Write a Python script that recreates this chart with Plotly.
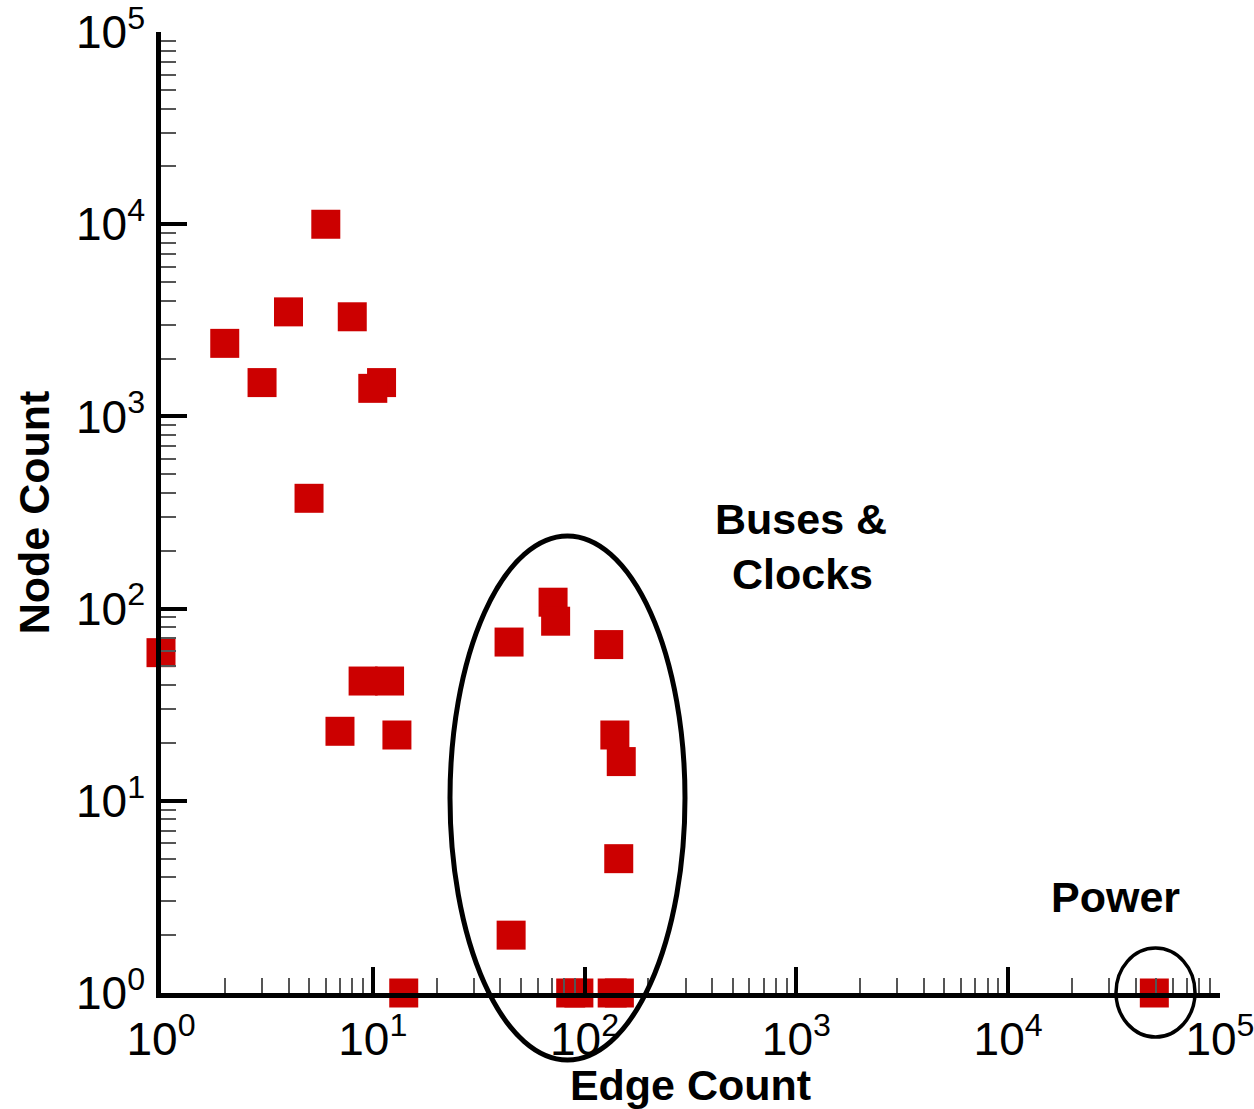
import plotly.graph_objects as go

# Data (edge count vs node count)
edge_count = [6, 2, 3, 4, 8, 11, 10, 5, 1, 9, 12, 7, 13, 14,
              44, 71, 73, 130, 139, 149, 145, 45, 86, 94, 135, 146,
              49000]
node_count = [10000, 2400, 1500, 3500, 3300, 1500, 1400, 375, 59, 42, 42, 23, 22, 1,
              67, 108, 86, 65, 22, 16, 5, 2, 1, 1, 1, 1,
              1]

major_vals = [1, 10, 100, 1000, 10000, 100000]
major_text = ["10<sup>0</sup>", "10<sup>1</sup>", "10<sup>2</sup>",
              "10<sup>3</sup>", "10<sup>4</sup>", "10<sup>5</sup>"]
minor_vals = [k * 10 ** n for n in range(5) for k in range(2, 10)]

FONT = "Liberation Sans"
RED = "#cc0000"

fig = go.Figure()
fig.add_trace(go.Scatter(
    x=edge_count, y=node_count, mode="markers",
    marker=dict(symbol="square", size=29, color=RED, line=dict(width=0)),
    cliponaxis=False, showlegend=False,
))

axis_common = dict(
    type="log", range=[0, 5.0003],
    showgrid=False, zeroline=False,
    showline=True, linecolor="black", linewidth=4.5,
    ticks="inside", ticklen=26, tickwidth=3.5, tickcolor="black",
    tickvals=major_vals, ticktext=major_text,
    ticklabeloverflow="allow",
    tickfont=dict(family=FONT, size=46, color="black"),
    minor=dict(ticks="inside", ticklen=15, tickwidth=2, tickcolor="#555555",
               tickvals=minor_vals, showgrid=False),
)

fig.update_xaxes(**axis_common, ticklabelstandoff=2,
                 title=dict(text="<b>Edge Count</b>",
                            font=dict(family=FONT, size=43, color="black"),
                            standoff=0))
fig.update_yaxes(**axis_common, ticklabelstandoff=2,
                 title=dict(text="<b>Node Count</b>",
                            font=dict(family=FONT, size=43, color="black"),
                            standoff=14))

# Ellipses marking clusters
fig.add_shape(type="circle", xref="paper", yref="paper",
              x0=0.2729, x1=0.4948, y0=-0.0697, y1=0.4755,
              line=dict(color="black", width=5), layer="above")
fig.add_shape(type="circle", xref="paper", yref="paper",
              x0=0.9018, x1=0.9764, y0=-0.0458, y1=0.0468,
              line=dict(color="black", width=3.5), layer="above")

ann_font = dict(family=FONT, size=43, color="black")
fig.add_annotation(text="<b>Buses &amp;</b>", xref="paper", yref="paper",
                   x=0.6043, y=0.4932, showarrow=False, font=ann_font,
                   xanchor="center", yanchor="middle")
fig.add_annotation(text="<b>Clocks</b>", xref="paper", yref="paper",
                   x=0.6062, y=0.4360, showarrow=False, font=ann_font,
                   xanchor="center", yanchor="middle")
fig.add_annotation(text="<b>Power</b>", xref="paper", yref="paper",
                   x=0.9009, y=0.0999, showarrow=False, font=ann_font,
                   xanchor="center", yanchor="middle")

fig.update_layout(
    width=1254, height=1109,
    margin=dict(l=161, r=34, t=32, b=116, autoexpand=False),
    paper_bgcolor="white", plot_bgcolor="white",
    font=dict(family=FONT, color="black"),
)

fig.write_html("out.html")
